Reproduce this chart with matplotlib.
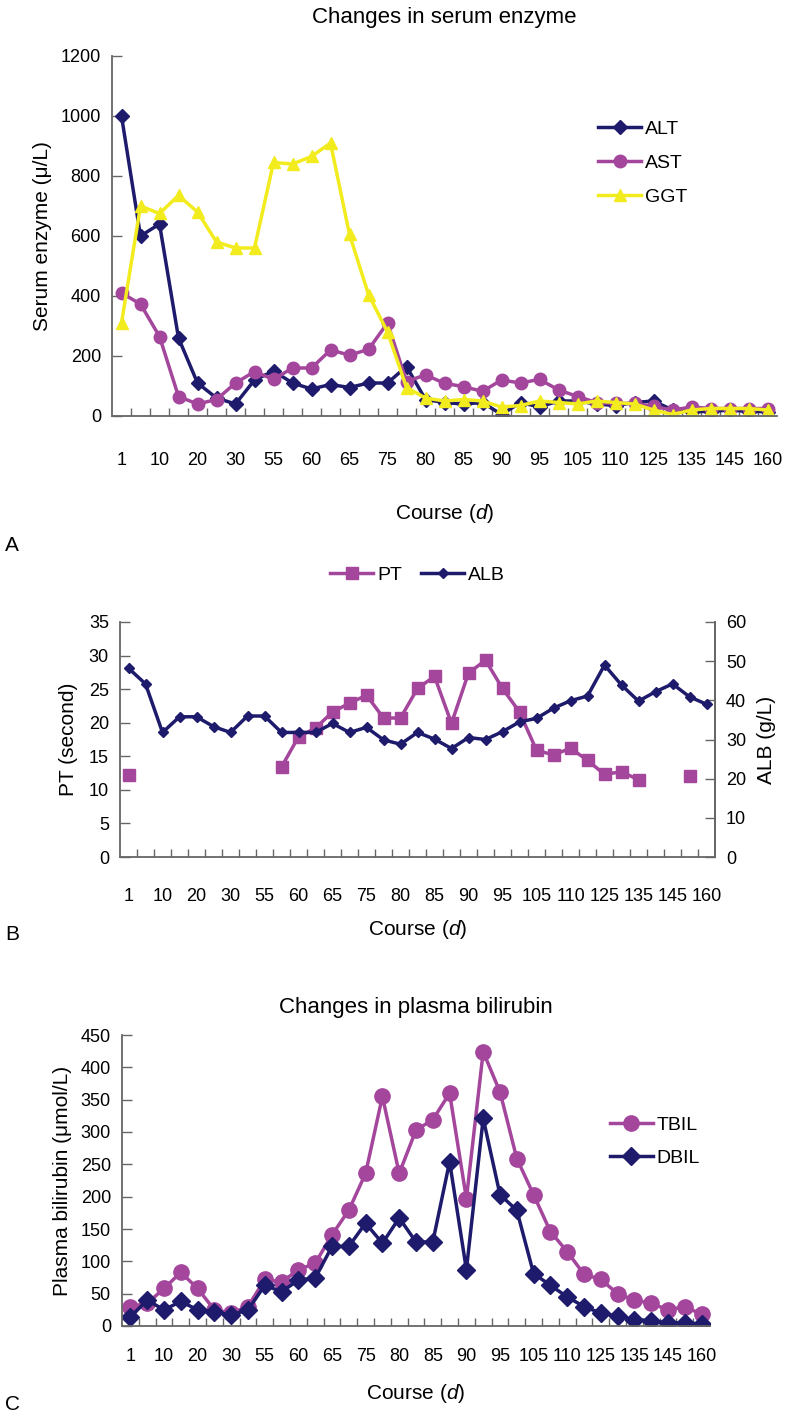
import numpy as np
import matplotlib
matplotlib.use('Agg')
import matplotlib.pyplot as plt

plt.rcParams['font.family'] = ['Liberation Sans', 'DejaVu Sans']
plt.rcParams['mathtext.fontset'] = 'custom'
plt.rcParams['mathtext.it'] = 'Liberation Sans:italic'
plt.rcParams['mathtext.rm'] = 'Liberation Sans'

# --------------------------- Data ---------------------------
# 35 measurement points, every second one is labelled on the axis
course_labels = ['1', '10', '20', '30', '55', '60', '65', '75', '80', '85',
                 '90', '95', '105', '110', '125', '135', '145', '160']
n_points = 35

alt = [1000, 600, 640, 260, 110, 60, 40, 120, 150, 110,
       90, 105, 95, 110, 110, 165, 55, 45, 40, 45,
       5, 45, 30, 50, 50, 40, 35, 45, 50, 20,
       15, 15, 20, 15, 15]
ast = [410, 373, 265, 65, 40, 55, 110, 148, 122, 160,
       160, 220, 203, 222, 310, 115, 137, 109, 98, 82,
       120, 110, 122, 87, 65, 45, 42, 42, 32, 20,
       30, 25, 25, 25, 25]
ggt = [310, 700, 675, 735, 680, 580, 560, 560, 845, 840,
       865, 910, 605, 405, 280, 95, 60, 50, 55, 50,
       30, 35, 50, 45, 40, 50, 45, 40, 20, 5,
       20, 25, 25, 25, 20]

nan = np.nan
pt = [12.2, nan, nan, nan, nan, nan, nan, nan, nan, 13.4,
      17.9, 19.2, 21.6, 22.9, 24.1, 20.7, 20.7, 25.1, 26.9, 19.9,
      27.4, 29.3, 25.1, 21.6, 15.9, 15.2, 16.2, 14.4, 12.3, 12.7,
      11.5, nan, nan, 12.1, nan]
alb = [48.2, 44.2, 31.8, 35.8, 35.8, 33.3, 31.8, 36, 36, 31.8,
       31.8, 31.8, 34.1, 31.8, 33.1, 29.9, 28.8, 31.8, 30.1, 27.7,
       30.5, 30, 32, 34.5, 35.4, 38, 39.9, 41.1, 49, 43.9,
       39.8, 42.2, 44.2, 40.9, 39]

tbil = [30, 35, 58, 83, 58, 25, 20, 30, 72, 68,
        87, 97, 141, 179, 236, 355, 236, 303, 319, 360,
        197, 424, 362, 259, 203, 146, 115, 80, 72, 50,
        40, 35, 25, 30, 18]
dbil = [14, 40, 25, 38, 25, 22, 17, 25, 63, 53,
        71, 74, 123, 123, 159, 128, 167, 130, 130, 254,
        87, 321, 203, 179, 81, 63, 45, 30, 20, 15,
        10, 8, 5, 5, 3]

# --------------------------- Style ---------------------------
navy = '#1f1b6c'
purple = '#a3469c'
yellow = '#f2ec1e'
axis_grey = '#666666'

W, H = 800, 1419
fig = plt.figure(figsize=(W / 100, H / 100), dpi=100)


def px_axes(left, top, right, bottom):
    return fig.add_axes([left / W, 1 - bottom / H, (right - left) / W, (bottom - top) / H])


def style_axes(ax, label_pad):
    x = np.arange(n_points)
    ax.set_xlim(-0.5, n_points - 0.5)
    ax.set_xticks(x[::2])
    ax.set_xticklabels(course_labels, fontsize=13)
    ax.set_xticks(np.arange(0.5, n_points - 1, 1), minor=True)
    ax.tick_params(axis='x', which='major', length=0, pad=label_pad)
    ax.tick_params(axis='x', which='minor', direction='in', length=6, width=1, color=axis_grey)
    ax.tick_params(axis='y', direction='in', length=7, width=1, color=axis_grey, labelsize=13, pad=8)
    ax.spines['top'].set_visible(False)
    ax.spines['right'].set_visible(False)
    for s in ['left', 'bottom']:
        ax.spines[s].set_color(axis_grey)
        ax.spines[s].set_linewidth(1.3)
    return x


# --------------------------- Panel A ---------------------------
axA = px_axes(112, 56, 777, 416)
x = style_axes(axA, 26)
lA1, = axA.plot(x, alt, color=navy, lw=2.5, marker='D', ms=7, label='ALT')
lA2, = axA.plot(x, ast, color=purple, lw=2.5, marker='o', ms=9, label='AST')
lA3, = axA.plot(x, ggt, color=yellow, lw=2.5, marker='^', ms=8, label='GGT')
axA.set_ylim(0, 1200)
axA.set_yticks(range(0, 1201, 200))
axA.set_ylabel('Serum enzyme (\u03bc/L)', fontsize=15, labelpad=6)
axA.set_xlabel('Course ($\\mathit{d}$)', fontsize=15, labelpad=24)
axA.set_title('Changes in serum enzyme', fontsize=16, pad=24)
axA.legend(handles=[lA1, lA2, lA3], loc='upper left', bbox_to_anchor=(0.705, 0.87),
           frameon=False, fontsize=14, handlelength=2.2, handletextpad=0.2, labelspacing=0.85)
fig.text(5 / W, 1 - 545 / H, 'A', fontsize=15, va='center')

# --------------------------- Panel B ---------------------------
axB = px_axes(120, 622, 715, 857)
x = style_axes(axB, 22)
axB.spines['right'].set_visible(True)
axB.spines['right'].set_color(axis_grey)
axB.spines['right'].set_linewidth(1.3)
lB1, = axB.plot(x, pt, color=purple, lw=2.5, marker='s', ms=9, label='PT')
axB.set_ylim(0, 35)
axB.set_yticks(range(0, 36, 5))
axB.set_ylabel('PT (second)', fontsize=15, labelpad=8)
axB.set_xlabel('Course ($\\mathit{d}$)', fontsize=15, labelpad=10)
axB2 = axB.twinx()
lB2, = axB2.plot(x, alb, color=navy, lw=2.5, marker='D', ms=5, label='ALB')
axB2.set_ylim(0, 60)
axB2.set_yticks(range(0, 61, 10))
axB2.tick_params(axis='y', direction='in', length=7, width=1, color=axis_grey, labelsize=13, pad=8)
for s in ['top', 'left', 'bottom']:
    axB2.spines[s].set_visible(False)
axB2.spines['right'].set_color(axis_grey)
axB2.spines['right'].set_linewidth(1.3)
axB2.set_ylabel('ALB (g/L)', fontsize=15, labelpad=8)
axB.legend(handles=[lB1, lB2], loc='center', bbox_to_anchor=(0.5, 1.2), ncol=2,
           frameon=False, fontsize=14, handlelength=2.2, handletextpad=0.2, columnspacing=1.0)
fig.text(5 / W, 1 - 935 / H, 'B', fontsize=15, va='center')

# --------------------------- Panel C ---------------------------
axC = px_axes(122, 1035, 710, 1326)
x = style_axes(axC, 16)
lC1, = axC.plot(x, tbil, color=purple, lw=2.5, marker='o', ms=11, label='TBIL')
lC2, = axC.plot(x, dbil, color=navy, lw=2.5, marker='D', ms=9, label='DBIL')
axC.set_ylim(0, 450)
axC.set_yticks(range(0, 451, 50))
axC.set_ylabel('Plasma bilirubin (\u03bcmol/L)', fontsize=15, labelpad=6)
axC.set_xlabel('Course ($\\mathit{d}$)', fontsize=15, labelpad=12)
axC.set_title('Changes in plasma bilirubin', fontsize=16, pad=16)
axC.legend(handles=[lC1, lC2], loc='upper left', bbox_to_anchor=(0.8, 0.78),
           frameon=False, fontsize=14, handlelength=2.2, handletextpad=0.2, labelspacing=0.8)
fig.text(5 / W, 1 - 1405 / H, 'C', fontsize=15, va='center')

fig.savefig('out.png', dpi=100)
